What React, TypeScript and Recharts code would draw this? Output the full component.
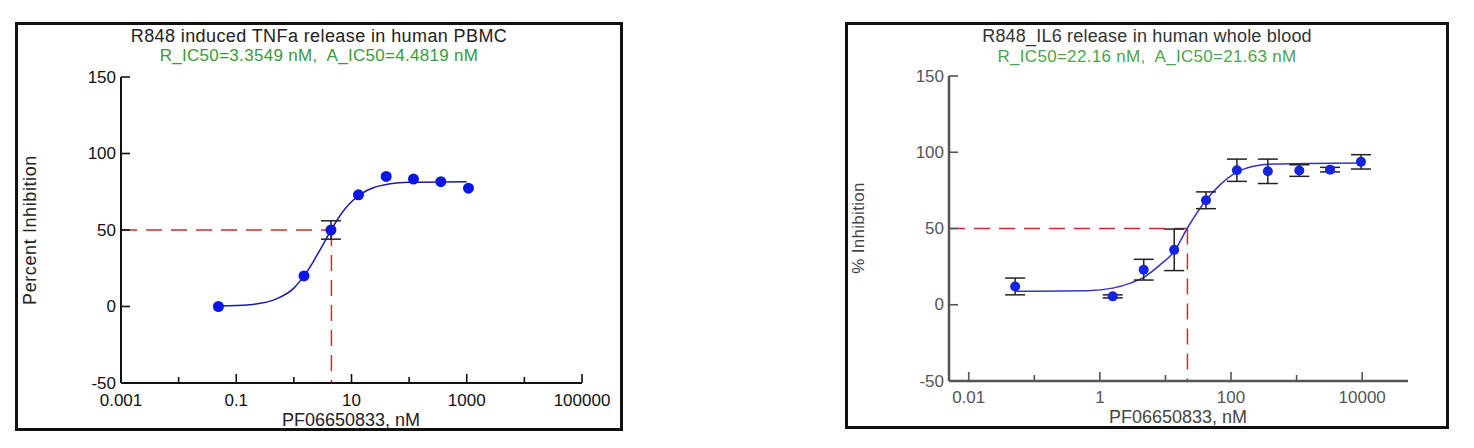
import React from "react";
import {
  ComposedChart,
  ErrorBar,
  Line,
  ReferenceLine,
  Scatter,
  XAxis,
  YAxis,
} from "recharts";

// left panel: TNFa in PBMC
const tnfConc = [0.049, 1.5, 4.4, 13.2, 40, 119, 355, 1070];
const tnfInhibition = [0, 20, 50, 73, 85, 83.3, 81.6, 77.3];
const tnfSem = [0, 0, 6, 0, 0, 0, 0, 0];
const tnfFitConc = [0.049, 0.17, 0.5, 1.0, 1.5, 2.0, 2.5, 3.16, 4.43, 7.2, 10, 13.2, 17.8, 24, 47, 100, 1000];
const tnfFitValue = [0.3, 1.2, 5, 12, 20, 27, 33.4, 40, 50, 62.4, 68.5, 72.3, 75.5, 77.6, 80.2, 81.2, 81.6];
const tnfIc50 = 4.4819;

// right panel: IL6 in whole blood
const il6Conc = [0.051, 1.57, 4.66, 13.6, 41.5, 123, 364, 1100, 3240, 9580];
const il6Inhibition = [12, 5.5, 23, 36, 68.5, 88.2, 87.5, 88, 88.6, 93.7];
const il6Sem = [5.5, 1, 6.8, 13.6, 5.5, 7.3, 8, 3.8, 1.5, 4.7];
const il6FitConc = [0.051, 0.64, 1.57, 2.92, 4.66, 8.36, 13.6, 21.4, 41.5, 68.5, 123, 220, 447, 9580];
const il6FitValue = [8.8, 9.2, 10.9, 14.2, 18, 26.3, 35, 50, 68.5, 78.8, 87, 90.8, 92.3, 93];
const il6Ic50 = 21.63;

const yTicks = [-50, 0, 50, 100, 150];
const tnfXTicks = [0.001, 0.01, 0.1, 1, 10, 100, 1000, 10000, 100000];
const tnfXLabels = ["0.001", "", "0.1", "", "10", "", "1000", "", "100000"];
const il6XTicks = [0.01, 0.1, 1, 10, 100, 1000, 10000];
const il6XLabels = ["0.01", "", "1", "", "100", "", "10000"];

const FONT = "'Liberation Sans', Arial, sans-serif";

const zip = (xs: number[], ys: number[], es?: number[]) =>
  xs.map((x, i) => ({ x, y: ys[i], err: es ? es[i] : 0 }));

function XTick(props: any) {
  const { x, y, payload, ticks, labels, color, labelDy } = props;
  const label = labels[ticks.indexOf(payload.value)];
  return (
    <g>
      <line x1={x} x2={x} y1={y} y2={y - (label ? 9 : 6)} stroke={color} strokeWidth={1.6} />
      {label ? (
        <text x={x} y={y + labelDy} textAnchor="middle" dominantBaseline="central" fontSize={17} fill={color} fontFamily={FONT}>
          {label}
        </text>
      ) : null}
    </g>
  );
}

function YTick(props: any) {
  const { x, y, payload, color } = props;
  return (
    <g>
      <line x1={x} x2={x + 9} y1={y} y2={y} stroke={color} strokeWidth={1.6} />
      <text x={x - 5} y={y} textAnchor="end" dominantBaseline="central" fontSize={17} fill={color} fontFamily={FONT}>
        {payload.value}
      </text>
    </g>
  );
}

type PanelProps = {
  left: number;
  top: number;
  width: number;
  height: number;
  margin: { top: number; right: number; bottom: number; left: number };
  domain: [number, number];
  xTicks: number[];
  xLabels: string[];
  axisColor: string;
  axisWidth: number;
  labelDy: number;
  points: { x: number; y: number; err: number }[];
  fit: { x: number; y: number; err: number }[];
  ic50: number;
  dotColor: string;
  curveColor: string;
  dotR: number;
};

function Panel(p: PanelProps) {
  return (
    <div style={{ position: "absolute", left: p.left, top: p.top }}>
      <ComposedChart width={p.width} height={p.height} margin={p.margin}>
        <XAxis
          dataKey="x"
          type="number"
          scale="log"
          domain={p.domain}
          allowDataOverflow
          ticks={p.xTicks}
          interval={0}
          height={30}
          tickSize={0}
          tickMargin={0}
          tickLine={false}
          axisLine={{ stroke: p.axisColor, strokeWidth: p.axisWidth }}
          tick={(t: any) => (
            <XTick {...t} ticks={p.xTicks} labels={p.xLabels} color={p.axisColor} labelDy={p.labelDy} />
          )}
        />
        <YAxis
          dataKey="y"
          type="number"
          domain={[-50, 150]}
          ticks={yTicks}
          interval={0}
          width={60}
          tickSize={0}
          tickMargin={0}
          tickLine={false}
          axisLine={{ stroke: p.axisColor, strokeWidth: p.axisWidth }}
          tick={(t: any) => <YTick {...t} color={p.axisColor} />}
        />
        <ReferenceLine
          segment={[{ x: p.domain[0], y: 50 }, { x: p.ic50, y: 50 }]}
          stroke="#d42a2a"
          strokeWidth={1.5}
          strokeDasharray="16 9"
        />
        <ReferenceLine
          segment={[{ x: p.ic50, y: 50 }, { x: p.ic50, y: -50 }]}
          stroke="#d42a2a"
          strokeWidth={1.5}
          strokeDasharray="16 9"
        />
        <Line
          data={p.fit}
          dataKey="y"
          type="monotone"
          stroke={p.curveColor}
          strokeWidth={1.5}
          dot={false}
          activeDot={false}
          isAnimationActive={false}
        />
        <Scatter
          data={p.points}
          dataKey="y"
          isAnimationActive={false}
          shape={(s: any) => <circle cx={s.cx} cy={s.cy} r={p.dotR} fill={p.dotColor} />}
        >
          <ErrorBar dataKey="err" direction="y" width={10} stroke="#222" strokeWidth={1.5} />
        </Scatter>
      </ComposedChart>
    </div>
  );
}

const textStyle = (extra: React.CSSProperties): React.CSSProperties => ({
  position: "absolute",
  fontFamily: FONT,
  whiteSpace: "nowrap",
  lineHeight: "20px",
  ...extra,
});

export default function App() {
  return (
    <div style={{ position: "absolute", left: 0, top: 0, width: 1474, height: 448, background: "#fff" }}>
      {/* left frame */}
      <div style={{ position: "absolute", left: 15, top: 22, width: 608, height: 409, border: "3px solid #111", boxSizing: "border-box" }} />
      <div style={textStyle({ left: 15, top: 26, width: 608, textAlign: "center", fontSize: 18, color: "#222", letterSpacing: 0.4 })}>
        R848 induced TNFa release in human PBMC
      </div>
      <div style={textStyle({ left: 15, top: 46, width: 608, textAlign: "center", fontSize: 17, color: "#3a9a3a", letterSpacing: 0.3 })}>
        R_IC50=3.3549 nM,&nbsp; A_IC50=4.4819 nM
      </div>
      <Panel
        left={17}
        top={23}
        width={605}
        height={406}
        margin={{ top: 54, right: 40, bottom: 16, left: 44 }}
        domain={[0.001, 100000]}
        xTicks={tnfXTicks}
        xLabels={tnfXLabels}
        axisColor="#111"
        axisWidth={2}
        labelDy={17}
        points={zip(tnfConc, tnfInhibition, tnfSem)}
        fit={zip(tnfFitConc, tnfFitValue)}
        ic50={tnfIc50}
        dotColor="#0a16e6"
        curveColor="#1a1aa8"
        dotR={5.5}
      />
      <div style={textStyle({ left: 30 - 100, top: 230 - 10, width: 200, textAlign: "center", fontSize: 18, color: "#222", letterSpacing: 0.6, transform: "rotate(-90deg)" })}>
        Percent Inhibition
      </div>
      <div style={textStyle({ left: 251, top: 410, width: 200, textAlign: "center", fontSize: 18, color: "#222" })}>
        PF06650833, nM
      </div>

      {/* right frame */}
      <div style={{ position: "absolute", left: 845, top: 22, width: 604, height: 407, border: "3px solid #111", boxSizing: "border-box" }} />
      <div style={textStyle({ left: 845, top: 26, width: 604, textAlign: "center", fontSize: 18, color: "#333", letterSpacing: 0.2 })}>
        R848_IL6 release in human whole blood
      </div>
      <div style={textStyle({ left: 845, top: 47, width: 604, textAlign: "center", fontSize: 17, color: "#4aa54a", letterSpacing: 0.3 })}>
        R_IC50=22.16 nM,&nbsp; A_IC50=21.63 nM
      </div>
      <Panel
        left={846}
        top={23}
        width={602}
        height={405}
        margin={{ top: 53, right: 40, bottom: 17, left: 43 }}
        domain={[0.005, 50000]}
        xTicks={il6XTicks}
        xLabels={il6XLabels}
        axisColor="#555"
        axisWidth={2.5}
        labelDy={16}
        points={zip(il6Conc, il6Inhibition, il6Sem)}
        fit={zip(il6FitConc, il6FitValue)}
        ic50={il6Ic50}
        dotColor="#1424e0"
        curveColor="#3535c0"
        dotR={5}
      />
      <div style={textStyle({ left: 859 - 100, top: 228 - 10, width: 200, textAlign: "center", fontSize: 17, color: "#444", letterSpacing: 0.3, transform: "rotate(-90deg)" })}>
        % Inhibition
      </div>
      <div style={textStyle({ left: 1078, top: 407, width: 200, textAlign: "center", fontSize: 18, color: "#444" })}>
        PF06650833, nM
      </div>
    </div>
  );
}
